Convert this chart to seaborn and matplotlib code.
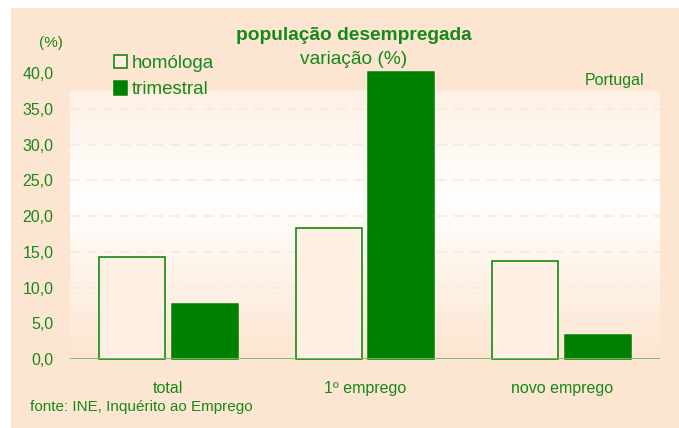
import matplotlib

matplotlib.use("Agg")
import matplotlib.pyplot as plt
import numpy as np
import pandas as pd
import seaborn as sns
from matplotlib.patches import Rectangle

categories = ["total", "1º emprego", "novo emprego"]
series = ["homóloga", "trimestral"]
homologa = [14.3, 18.4, 13.7]
trimestral = [7.7, 40.2, 3.4]
yticks = [0, 5, 10, 15, 20, 25, 30, 35, 40]

GREEN = "#008000"
TEXT = "#16891a"
PEACH = "#fde6d1"
LIGHT = "#fff0e3"

df = pd.DataFrame(
    {
        "categoria": categories * 2,
        "serie": [series[0]] * 3 + [series[1]] * 3,
        "valor": homologa + trimestral,
    }
)

sns.set_theme(style="white")
plt.rcParams["font.family"] = ["Liberation Sans", "DejaVu Sans"]

fig = plt.figure(figsize=(6.79, 4.28), dpi=100, facecolor="white")
# peach page background (white margin top / left as in the source)
fig.patches.append(
    Rectangle((11 / 679, 0), 1, 420 / 428, transform=fig.transFigure,
              facecolor=PEACH, edgecolor="none", zorder=-10)
)

ax = fig.add_axes([70 / 679, 69 / 428, 590 / 679, 300 / 428])
ax.set_facecolor(PEACH)
ax.patch.set_alpha(0)

# vertical gradient in the plotting region: peach at bottom, white in middle
grad = np.concatenate([np.linspace(0, 1, 60), np.linspace(1, 0.45, 40)])
peach_rgb = np.array(matplotlib.colors.to_rgb(PEACH))
img = peach_rgb + (1 - peach_rgb) * grad[:, None]
ax.imshow(img[:, None, :], extent=(-0.5, 2.5, 0, 37.5), origin="lower",
          aspect="auto", zorder=0)

ax.hlines(yticks[1:-1], -0.5, 2.5, colors="#fce8d8", linestyles=(0, (6, 4)),
          linewidth=1.2, zorder=0.5)

sns.barplot(
    data=df, x="categoria", y="valor", hue="serie", order=categories,
    hue_order=series, palette=[LIGHT, GREEN], width=0.74, gap=0.09,
    edgecolor=GREEN, linewidth=1.1, saturation=1, ax=ax, legend=True,
    zorder=2,
)
for bar in ax.patches:
    bar.set_clip_on(False)

ax.axhline(0, color="#78b768", linewidth=2, zorder=3)
ax.set_xlim(-0.5, 2.5)
ax.set_ylim(0, 42)
ax.set_yticks(yticks)
ax.set_yticklabels([f"{v:.1f}".replace(".", ",") for v in yticks])
ax.tick_params(axis="y", colors=TEXT, labelsize=11.5, length=0, pad=12)
ax.tick_params(axis="x", colors=TEXT, labelsize=11.5, length=0, pad=16)
ax.set_xlabel("")
ax.set_ylabel("")
sns.despine(ax=ax, left=True, bottom=True)

handles, labels = ax.get_legend_handles_labels()
ax.legend(
    handles, labels, loc="upper left", bbox_to_anchor=(27 / 590, 1.07),
    frameon=False, fontsize=13.5, labelcolor=TEXT, handlelength=0.7,
    handleheight=0.7, handletextpad=0.25, labelspacing=0.5,
)

fig.text(354 / 679, 1 - 35 / 428, "população desempregada", ha="center",
         va="center", color=TEXT, fontsize=13.8, fontweight="bold")
fig.text(354 / 679, 1 - 60 / 428, "variação (%)", ha="center", va="center",
         color=TEXT, fontsize=13.8)
fig.text(51 / 679, 1 - 43 / 428, "(%)", ha="center", va="center",
         color=TEXT, fontsize=11)
fig.text(615 / 679, 1 - 80 / 428, "Portugal", ha="center", va="center",
         color=TEXT, fontsize=11.5)
fig.text(30 / 679, 1 - 407 / 428, "fonte: INE, Inquérito ao Emprego",
         ha="left", va="center", color=TEXT, fontsize=11)

fig.savefig("out.png", dpi=100, facecolor=fig.get_facecolor())
